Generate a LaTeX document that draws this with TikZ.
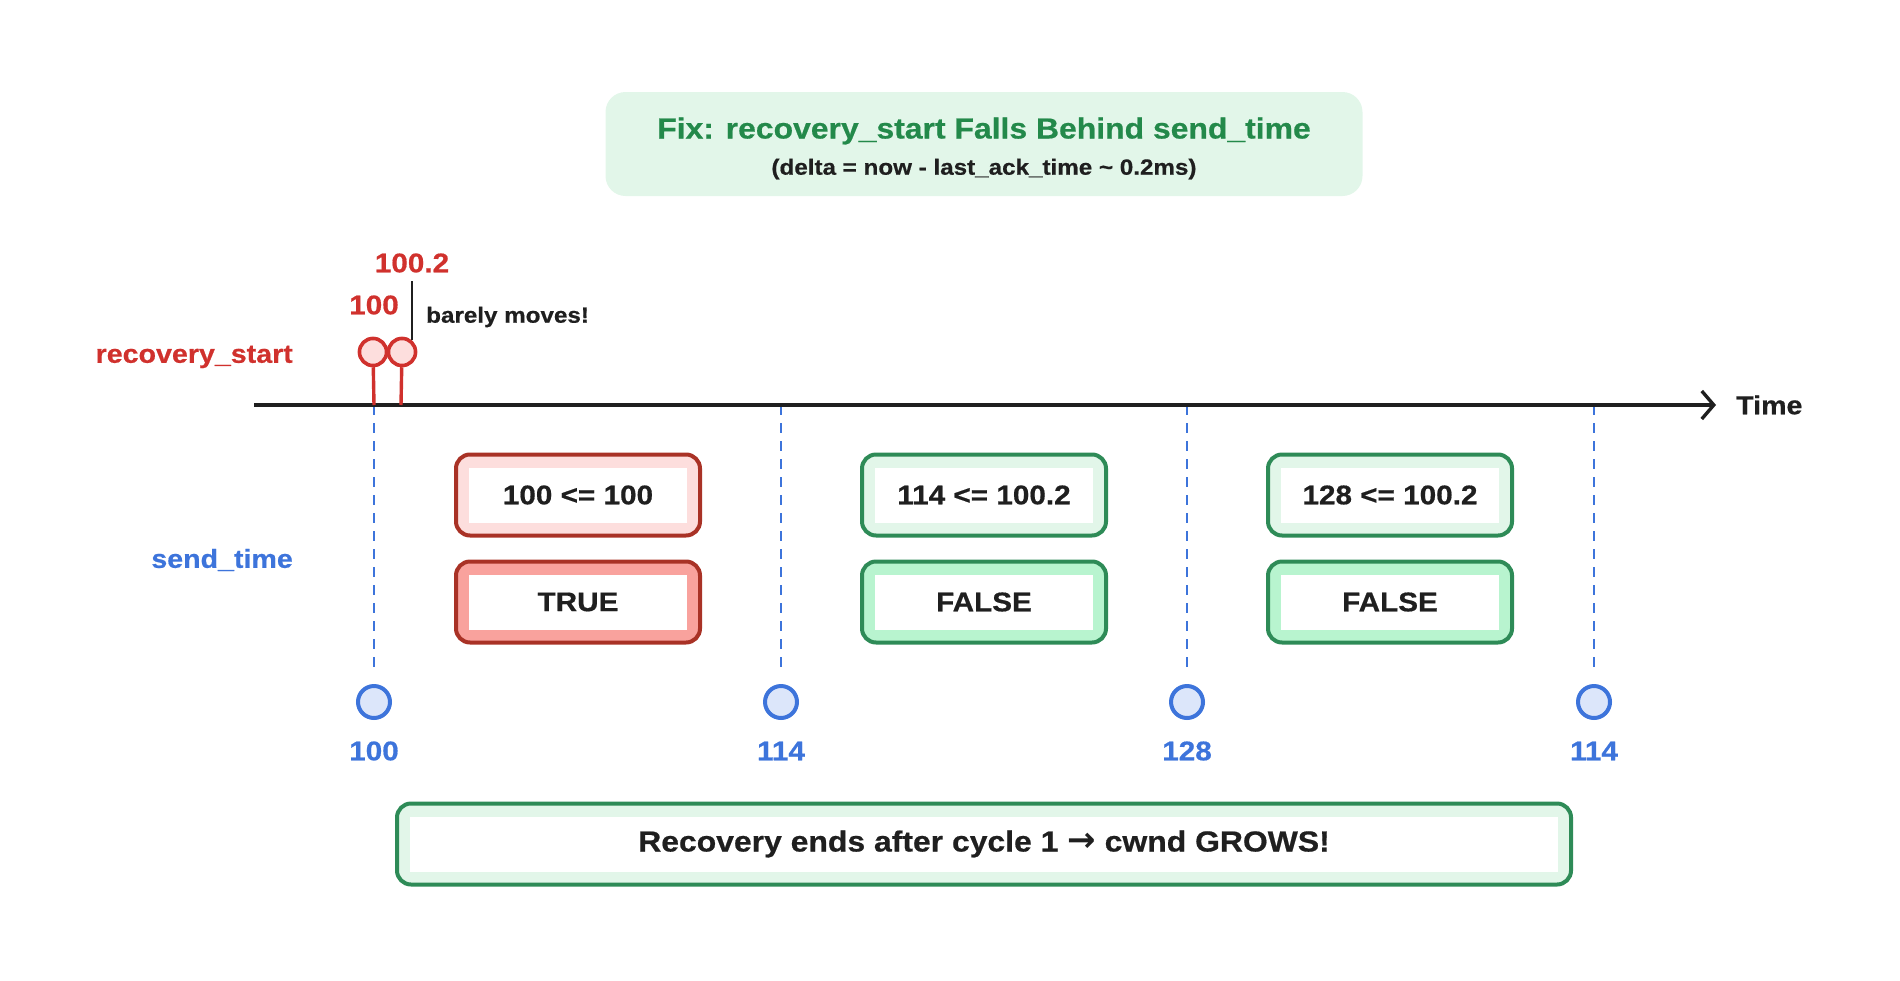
\documentclass[tikz,border=0pt]{standalone}
\usepackage{fontspec}
\setmainfont[FakeStretch=1.1, BoldFeatures={FakeBold=0.6}]{Liberation Sans}
\newfontfamily\arrowfont{DejaVu Sans}
\usetikzlibrary{arrows.meta,calc,positioning}
\definecolor{FixGreen}{HTML}{23894A}
\definecolor{FixMint}{HTML}{E2F6E9}
\definecolor{RecRed}{HTML}{D0312D}
\definecolor{RecPink}{HTML}{FDDEDD}
\definecolor{BoxRed}{HTML}{A93226}
\definecolor{BoxRose}{HTML}{F9A29D}
\definecolor{BoxGreen}{HTML}{2E8B57}
\definecolor{BoxMint}{HTML}{B8F4CF}
\definecolor{SendBlue}{HTML}{3D74DB}
\definecolor{SendPale}{HTML}{DCE6FA}
\definecolor{InkBlack}{HTML}{1F1F1F}

\tikzset{
  txt/.style={font=\fontsize{#1pt}{#1pt}\selectfont\bfseries, inner sep=0pt},
  cmpbox/.style 2 args={draw=#1, fill=#2, line width=4pt, rounded corners=14pt,
    minimum width=244pt, minimum height=81pt, text=InkBlack, txt=27,
    path picture={\fill[white, sharp corners] ($(path picture bounding box.south west)+(13pt,13pt)$)
      rectangle ($(path picture bounding box.north east)+(-13pt,-13pt)$);}},
  recpt/.style={circle, draw=RecRed, fill=RecPink, line width=3.5pt, minimum size=27pt, inner sep=0pt},
  sendpt/.style={circle, draw=SendBlue, fill=SendPale, line width=4pt, minimum size=32pt, inner sep=0pt},
  senddash/.style={SendBlue, line width=2.8pt, dash pattern=on 10pt off 8pt},
}

\begin{document}
\begin{tikzpicture}[x=1pt, y=-1pt, >=Stealth]
    \useasboundingbox (0,0) rectangle (1900,980);

    % Title
    \node[fill=FixMint, rounded corners=20pt, minimum width=757pt, minimum height=104pt] (titlebox) at (984,144) {};
    \node[txt=29, FixGreen] (title) at (984,131) {Fix: recovery\_start Falls Behind send\_time};
    \node[txt=22, InkBlack] (subtitle) at (984,169) {(delta = now - last\_ack\_time \textasciitilde{} 0.2ms)};

    % Row labels
    \node[txt=26, RecRed, anchor=east] (reclbl) at (293,357) {recovery\_start};
    \node[txt=26, SendBlue, anchor=east] (sendlbl) at (293,560) {send\_time};

    % Time axis points
    \coordinate (axisL) at (254,405);
    \coordinate (axisR) at (1716,405);
    \coordinate (tk1) at (374,405);
    \coordinate (tk2) at (781,405);
    \coordinate (tk3) at (1187,405);
    \coordinate (tk4) at (1594,405);
    \coordinate (stem2) at (401,405);

    % send_time markers
    \node[sendpt] (sp1) at (374,702) {};
    \node[sendpt] (sp2) at (781,702) {};
    \node[sendpt] (sp3) at (1187,702) {};
    \node[sendpt] (sp4) at (1594,702) {};
    \draw[senddash, shorten >=14pt] (tk1) -- (sp1);
    \draw[senddash, shorten >=14pt] (tk2) -- (sp2);
    \draw[senddash, shorten >=14pt] (tk3) -- (sp3);
    \draw[senddash, shorten >=14pt] (tk4) -- (sp4);
    \node[txt=27, SendBlue] (sv1) at (374,751) {100};
    \node[txt=27, SendBlue] (sv2) at (781,751) {114};
    \node[txt=27, SendBlue] (sv3) at (1187,751) {128};
    \node[txt=27, SendBlue] (sv4) at (1594,751) {114};

    % Time axis
    \draw[line width=3.4pt, InkBlack, -{Straight Barb[length=12pt, width=28pt]}] (axisL) -- (axisR);
    \node[txt=26, InkBlack, anchor=west] (timelbl) at (1736,405) {Time};

    % recovery_start markers
    \node[recpt] (rs1) at (373,352) {};
    \node[recpt] (rs2) at (402,352) {};
    \draw[RecRed, line width=3.4pt] (rs1) -- (tk1);
    \draw[RecRed, line width=3.4pt] (rs2) -- (stem2);
    \node[recpt] at (rs1) {};
    \node[recpt] at (rs2) {};
    \node[txt=27, RecRed] (rv100) at (374,305) {100};
    \node[txt=27, RecRed] (rv1002) at (412,263) {100.2};
    \coordinate (tip1002) at (412,281);
    \draw[InkBlack, line width=2pt] (rs2.50) -- (rs2.50 |- tip1002);
    \node[txt=22, InkBlack, anchor=west] (moves) at (426,317) {barely moves!};

    % Comparisons per cycle
    \node[cmpbox={BoxRed}{RecPink}] (cmp1) at (578,495) {100 <= 100};
    \node[cmpbox={BoxRed}{BoxRose}] (res1) at (578,602) {TRUE};
    \node[cmpbox={BoxGreen}{FixMint}] (cmp2) at (984,495) {114 <= 100.2};
    \node[cmpbox={BoxGreen}{BoxMint}] (res2) at (984,602) {FALSE};
    \node[cmpbox={BoxGreen}{FixMint}] (cmp3) at (1390,495) {128 <= 100.2};
    \node[cmpbox={BoxGreen}{BoxMint}] (res3) at (1390,602) {FALSE};

    % Verdict
    \node[cmpbox={BoxGreen}{FixMint}, minimum width=1174pt, txt=29] (verdict) at (984,844)
        {Recovery ends after cycle 1 {\arrowfont\fontsize{34pt}{34pt}\selectfont\bfseries →} cwnd GROWS!};

\end{tikzpicture}
\end{document}
